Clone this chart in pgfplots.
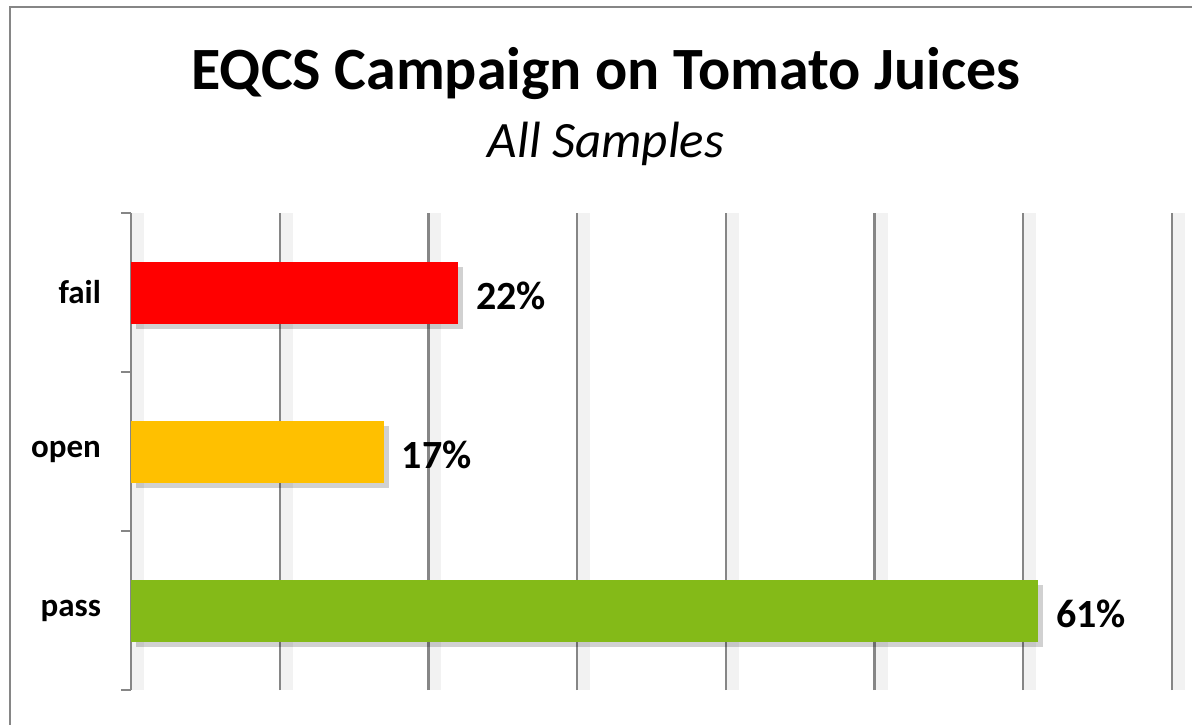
\documentclass[border=0pt]{standalone}
\usepackage{fontspec}
\setmainfont{Carlito}
\usepackage{pgfplots}
\pgfplotsset{compat=1.18}
\definecolor{barred}{RGB}{255,0,0}
\definecolor{barorange}{RGB}{255,192,0}
\definecolor{bargreen}{RGB}{132,186,24}
\definecolor{gridgray}{RGB}{134,134,134}
\begin{document}
\begin{tikzpicture}[x=0.5pt,y=0.5pt]
\useasboundingbox (0,0) rectangle (1192,724);
\draw[gridgray, line width=1.1pt] (10,-5) -- (10,717) -- (1197,717);
\node[font=\bfseries\fontsize{30}{36}\selectfont, anchor=base] at (606,634) {EQCS Campaign on Tomato Juices};
\node[font=\itshape\fontsize{25.5}{30}\selectfont, anchor=base] at (606,566) {All Samples};
\begin{axis}[
  at={(65.5pt,17pt)}, anchor=south west,
  scale only axis, width=520.5pt, height=238.5pt,
  xmin=0, xmax=70, ymin=-0.5, ymax=2.5,
  xbar, bar width=31pt, bar shift=0pt,
  axis y line*=left, axis x line*=bottom,
  x axis line style={draw=none},
  y axis line style={gridgray, line width=1pt, -},
  xtick={0,10,...,70}, xticklabels={}, xtick style={draw=none},
  xmajorgrids,
  major grid style={gridgray, line width=1.1pt, preaction={draw=black!5, line width=6pt, transform canvas={xshift=3.5pt}}},
  ytick={0,1,2}, yticklabels={pass,open,fail},
  major tick length=0pt,
  yticklabel style={font=\bfseries\fontsize{16.5}{20}\selectfont, xshift=-11.5pt},
  extra y ticks={-0.5,0.5,1.5,2.5}, extra y tick labels={},
  extra y tick style={major tick length=5pt, tick align=outside, tick style={gridgray, line width=1pt}, grid=none},
  nodes near coords,
  point meta=explicit symbolic,
  nodes near coords style={font=\bfseries\fontsize{20}{24}\selectfont, anchor=west, xshift=5.5pt, yshift=-1.5pt, text=black},
  every axis plot/.append style={draw=none, preaction={fill=black, fill opacity=0.18, transform canvas={xshift=2.5pt, yshift=-2.5pt}}},
]
\addplot[fill=bargreen] coordinates {(61,0) [61\%]};
\addplot[fill=barorange] coordinates {(17,1) [17\%]};
\addplot[fill=barred] coordinates {(22,2) [22\%]};
\end{axis}
\end{tikzpicture}
\end{document}
